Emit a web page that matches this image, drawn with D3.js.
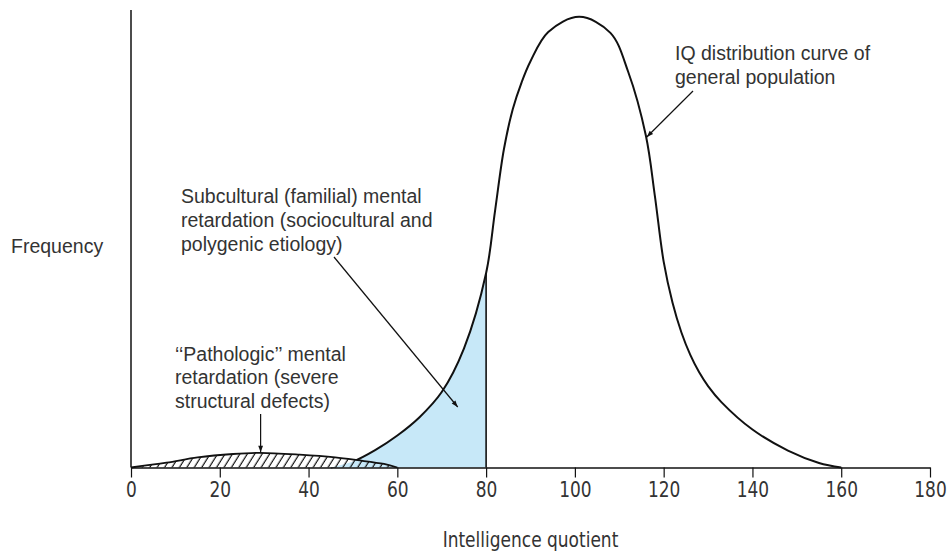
<!DOCTYPE html>
<html>
<head>
<meta charset="utf-8">
<script src="https://cdn.jsdelivr.net/npm/d3@7"></script>
<style>
  html, body { margin: 0; padding: 0; background: #fff; }
  svg { display: block; }
  .note { font-family: "Liberation Sans", Arial, sans-serif; font-size: 19.5px; fill: #333; }
  .narrow { font-family: "Liberation Sans Narrow", "DejaVu Sans Condensed", sans-serif; fill: #333; }
</style>
</head>
<body>
<svg id="chart" width="952" height="553"></svg>
<script>
// IQ distribution of the general population (relative frequency, peak ≈ 100)
const iqGeneral   = [45, 50, 55, 60, 65, 70, 75, 80, 82, 84, 86, 88, 90, 94, 101, 108, 112, 116, 118, 120, 122, 124, 126, 128, 130, 133, 140, 148, 155, 160];
const freqGeneral = [0, 1.3, 3.8, 7.0, 11.0, 16.5, 26, 42.5, 56, 69.5, 78.3, 84.2, 88.8, 95.2, 98.5, 95.0, 86.5, 72.5, 59.5, 45, 36, 29.5, 24.6, 20.8, 17.8, 14.3, 8.3, 3.7, 1.0, 0];

// Small hump of "pathologic" retardation
const iqPathologic   = [0, 8, 15, 23, 29, 38, 46, 51, 57, 60];
const freqPathologic = [0, 1.05, 2.2, 2.95, 3.2, 2.8, 2.2, 1.6, 0.77, 0];

// Subcultural band ends at IQ 80
const subculturalCutoff = 80;

const xTicks = [0, 20, 40, 60, 80, 100, 120, 140, 160, 180];

const labelGeneral     = ["IQ distribution curve of", "general population"];
const labelSubcultural = ["Subcultural (familial) mental", "retardation (sociocultural and", "polygenic etiology)"];
const labelPathologic  = ["\u2018\u2018Pathologic\u2019\u2019 mental", "retardation (severe", "structural defects)"];
const xTitle = "Intelligence quotient";
const yTitle = "Frequency";

const svg = d3.select("#chart");
const x = d3.scaleLinear().domain([0, 180]).range([131, 930]);
const y = d3.scaleLinear().domain([0, 100]).range([467.5, 10]);

const general = iqGeneral.map((v, i) => [v, freqGeneral[i]]);
const pathologic = iqPathologic.map((v, i) => [v, freqPathologic[i]]);

const defs = svg.append("defs");

// diagonal hatching
const hatch = defs.append("pattern")
  .attr("id", "hatch").attr("patternUnits", "userSpaceOnUse")
  .attr("width", 6.3).attr("height", 10)
  .attr("patternTransform", "rotate(32)");
hatch.append("line").attr("x1", 3).attr("y1", -2).attr("x2", 3).attr("y2", 12)
  .attr("stroke", "#111").attr("stroke-width", 1.2);

defs.append("clipPath").attr("id", "belowCutoff")
  .append("rect").attr("x", x(0)).attr("y", 0)
  .attr("width", x(subculturalCutoff) - x(0)).attr("height", 553);

const curve = d3.curveCatmullRom.alpha(0.5);
const line = d3.line().x(d => x(d[0])).y(d => y(d[1])).curve(curve);
const area = d3.area().x(d => x(d[0])).y0(y(0)).y1(d => y(d[1])).curve(curve);

// the general curve outline is hidden where the hatched hump covers it
const mask = defs.append("mask").attr("id", "outsideHump").attr("maskUnits", "userSpaceOnUse")
  .attr("x", 0).attr("y", 0).attr("width", 952).attr("height", 553);
mask.append("rect").attr("width", 952).attr("height", 553).attr("fill", "#fff");
mask.append("path").datum(pathologic).attr("d", area).attr("fill", "#000");

const arrow = defs.append("marker")
  .attr("id", "arrow").attr("viewBox", "0 0 10 10")
  .attr("refX", 10).attr("refY", 5)
  .attr("markerUnits", "userSpaceOnUse")
  .attr("markerWidth", 10).attr("markerHeight", 6.5)
  .attr("orient", "auto");
arrow.append("path").attr("d", "M0,1.3 L10,5 L0,8.7 Z").attr("fill", "#111");

// subcultural band (light blue)
svg.append("path").datum(general)
  .attr("d", area).attr("fill", "#c7e8f8")
  .attr("clip-path", "url(#belowCutoff)");

// general population curve
svg.append("path").datum(general)
  .attr("d", line).attr("fill", "none")
  .attr("stroke", "#111").attr("stroke-width", 2)
  .attr("mask", "url(#outsideHump)");

// cutoff line at IQ 80
const cutoffIdx = iqGeneral.indexOf(subculturalCutoff);
svg.append("line")
  .attr("x1", x(subculturalCutoff)).attr("x2", x(subculturalCutoff))
  .attr("y1", y(0)).attr("y2", y(freqGeneral[cutoffIdx]))
  .attr("stroke", "#111").attr("stroke-width", 1.6);

// pathologic hump
svg.append("path").datum(pathologic)
  .attr("d", area).attr("fill", "url(#hatch)");
svg.append("path").datum(pathologic)
  .attr("d", line).attr("fill", "none")
  .attr("stroke", "#111").attr("stroke-width", 1.8);

// axes
const xAxis = svg.append("g")
  .attr("transform", `translate(0,${y(0)})`)
  .call(d3.axisBottom(x).tickValues(xTicks).tickSize(10).tickPadding(4).tickSizeOuter(0));
xAxis.select(".domain").attr("stroke", "#111").attr("stroke-width", 1.5);
xAxis.selectAll(".tick line").attr("stroke", "#111").attr("stroke-width", 1.2);
xAxis.selectAll(".tick text").attr("class", "narrow")
  .attr("font-size", 22).attr("fill", "#333")
  .attr("transform", "scale(0.86,1)");

svg.append("line")
  .attr("x1", x(0)).attr("x2", x(0)).attr("y1", y(100)).attr("y2", y(0))
  .attr("stroke", "#111").attr("stroke-width", 1.5);

svg.append("g").attr("transform", `translate(${x(90)},547) scale(0.86,1)`)
  .append("text").attr("class", "narrow")
  .attr("text-anchor", "middle").attr("font-size", 22).text(xTitle);

svg.append("text").attr("class", "note")
  .attr("x", 11).attr("y", 253).attr("font-size", 20).text(yTitle);

// annotations
function block(lines, x0, y0, step) {
  const t = svg.append("text").attr("class", "note").attr("x", x0).attr("y", y0);
  lines.forEach((s, i) => t.append("tspan").attr("x", x0).attr("y", y0 + i * step).text(s));
}
block(labelGeneral, 675, 60, 23.5);
block(labelSubcultural, 181, 203, 24);
block(labelPathologic, 175, 361, 23.3);

function pointer(x1, y1, x2, y2) {
  svg.append("line")
    .attr("x1", x1).attr("y1", y1).attr("x2", x2).attr("y2", y2)
    .attr("stroke", "#111").attr("stroke-width", 1.2)
    .attr("marker-end", "url(#arrow)");
}
// to the right flank of the general curve (IQ ≈ 116)
pointer(693, 91, x(116.2), 137);
// into the subcultural band
pointer(334, 257, x(73.6), 407);
// down to the peak of the pathologic hump
pointer(x(29.2), 414, x(29.2), y(3.2) - 0.5);
</script>
</body>
</html>
